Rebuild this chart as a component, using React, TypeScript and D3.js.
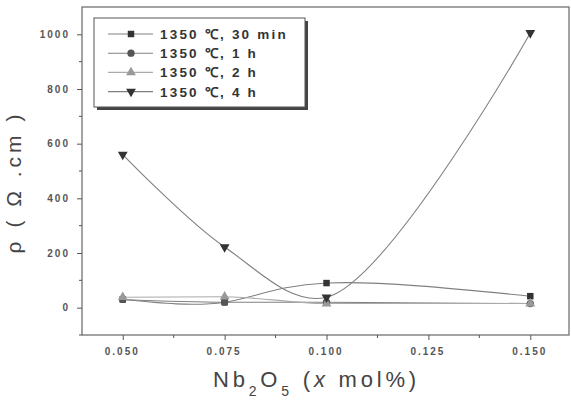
import React, { useEffect, useRef } from 'react';
import * as d3 from 'd3';

const xValues = [0.05, 0.075, 0.1, 0.15];
const seriesNames = ['1350 ℃, 30 min', '1350 ℃, 1 h', '1350 ℃, 2 h', '1350 ℃, 4 h'];
const rho30min = [30, 20, 90, 42];
const rho1h = [30, 20, 20, 15];
const rho2h = [38, 40, 15, 15];
const rho4h = [560, 222, 38, 1005];
const xTicks = [0.05, 0.075, 0.1, 0.125, 0.15];
const yTicks = [0, 200, 400, 600, 800, 1000];

export default function App() {
    const ref = useRef<SVGSVGElement>(null);

    useEffect(() => {
        const svg = d3.select(ref.current);
        svg.selectAll('*').remove();

        const left = 82, right = 569, top = 7, bottom = 335;
        const x = d3.scaleLinear().domain([0.04, 0.1595]).range([left, right]);
        const y = d3.scaleLinear().domain([-100, 1100]).range([bottom, top]);

        const tickColor = '#555';
        const tickFont = 'bold 10px "Liberation Sans", Arial, sans-serif';
        // frame
        svg.append('rect')
            .attr('x', left).attr('y', top)
            .attr('width', right - left).attr('height', bottom - top)
            .attr('fill', 'none').attr('stroke', '#666').attr('stroke-width', 1.2);

        const xAxis = svg.append('g').attr('transform', `translate(0,${bottom})`)
            .call(d3.axisBottom(x).tickValues(xTicks).tickFormat(d3.format('.3f')).tickSize(5).tickPadding(8));
        xAxis.select('.domain').remove();
        xAxis.selectAll('line').attr('stroke', tickColor);
        xAxis.selectAll('text').attr('fill', '#555').attr('dx', -1).style('font', tickFont).style('letter-spacing', '2px');
        const xMinor = d3.range(0.0625, 0.15, 0.025);
        svg.append('g').selectAll('line').data(xMinor).join('line')
            .attr('x1', d => x(d)).attr('x2', d => x(d))
            .attr('y1', bottom).attr('y2', bottom + 3).attr('stroke', tickColor);

        const yAxis = svg.append('g').attr('transform', `translate(${left},0)`)
            .call(d3.axisLeft(y).tickValues(yTicks).tickFormat(d3.format('d')).tickSize(5).tickPadding(7));
        yAxis.select('.domain').remove();
        yAxis.selectAll('line').attr('stroke', tickColor);
        yAxis.selectAll('text').attr('fill', '#555').style('font', tickFont).style('letter-spacing', '2px');
        const yMinor = d3.range(-100, 1100, 200);
        svg.append('g').selectAll('line').data(yMinor).join('line')
            .attr('x1', left - 3).attr('x2', left)
            .attr('y1', d => y(d)).attr('y2', d => y(d)).attr('stroke', tickColor);

        const series = [rho30min, rho1h, rho2h, rho4h];
        const markerFill = ['#333', '#555', '#999', '#333'];
        const symbols = [d3.symbolSquare, d3.symbolCircle, d3.symbolTriangle, d3.symbolTriangle];
        const rotate = [0, 0, 0, 180];
        const curves = [d3.curveNatural, d3.curveMonotoneX, d3.curveMonotoneX, d3.curveCatmullRom.alpha(0.5)];

        const plot = svg.append('g');
        series.forEach((vals, si) => {
            const line = d3.line<number>()
                .x((_, i) => x(xValues[i]))
                .y(d => y(d))
                .curve(curves[si]);
            plot.append('path')
                .attr('d', line(vals))
                .attr('fill', 'none')
                .attr('stroke', si === 2 ? '#aaa' : '#808080')
                .attr('stroke-width', 1.1);
        });
        series.forEach((vals, si) => {
            plot.append('g').selectAll('path').data(vals).join('path')
                .attr('d', d3.symbol(symbols[si], 42)())
                .attr('transform', (d, i) => `translate(${x(xValues[i])},${y(d)}) rotate(${rotate[si]})`)
                .attr('fill', markerFill[si]);
        });

        // legend
        const lg = svg.append('g');
        lg.append('rect').attr('x', 97).attr('y', 21).attr('width', 211).attr('height', 89).attr('fill', '#444');
        lg.append('rect').attr('x', 94).attr('y', 18).attr('width', 211).attr('height', 89)
            .attr('fill', '#fff').attr('stroke', '#555').attr('stroke-width', 1);
        seriesNames.forEach((name, i) => {
            const ly = 34 + i * 19.2;
            lg.append('line').attr('x1', 108).attr('x2', 153).attr('y1', ly).attr('y2', ly)
                .attr('stroke', i === 2 ? '#aaa' : '#808080').attr('stroke-width', 1.1);
            lg.append('path').attr('d', d3.symbol(symbols[i], 42)())
                .attr('transform', `translate(131,${ly}) rotate(${rotate[i]})`)
                .attr('fill', markerFill[i]);
            lg.append('text').attr('x', 160).attr('y', ly + 5)
                .attr('fill', '#333')
                .style('font', 'bold 13.5px "Liberation Sans", Arial, sans-serif')
                .style('letter-spacing', '2.2px')
                .text(name);
        });

        // y label
        svg.append('text')
            .attr('transform', 'translate(21,182) rotate(-90)')
            .attr('text-anchor', 'middle')
            .attr('fill', '#444')
            .style('font', '21px "Liberation Sans", Arial, sans-serif')
            .style('letter-spacing', '4px')
            .text('ρ ( Ω .cm )');

        // x label
        const xl = svg.append('text')
            .attr('x', 213).attr('y', 387)
            .attr('fill', '#444')
            .style('font', '22px "Liberation Sans", Arial, sans-serif')
            .style('letter-spacing', '3.8px');
        xl.append('tspan').text('Nb');
        xl.append('tspan').attr('dy', 9).style('font-size', '14px').text('2');
        xl.append('tspan').attr('dy', -9).text('O');
        xl.append('tspan').attr('dy', 9).style('font-size', '14px').text('5');
        xl.append('tspan').attr('dy', -9).text(' (');
        xl.append('tspan').style('font-style', 'italic').text('x');
        xl.append('tspan').text(' mol%)');
    }, []);

    return (
        <svg ref={ref} width={571} height={400}
            style={{ position: 'absolute', left: 0, top: 0, background: '#fff' }} />
    );
}
